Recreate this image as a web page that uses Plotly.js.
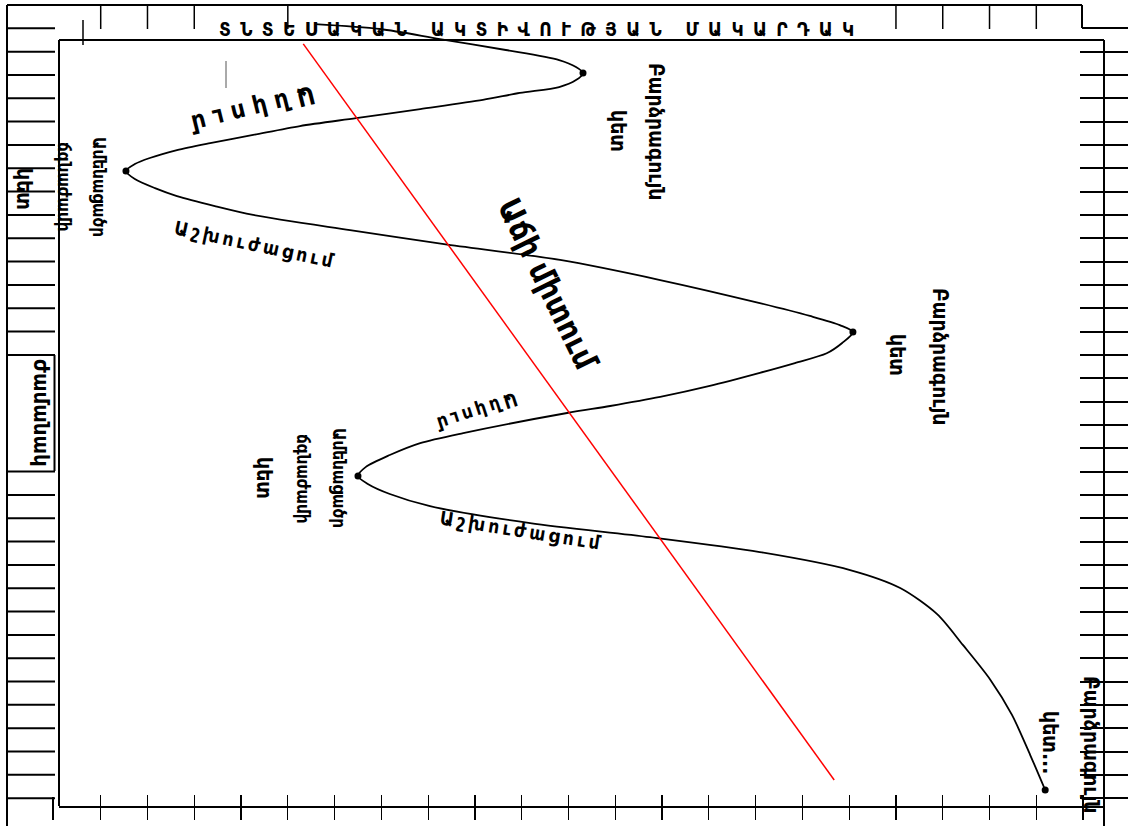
<!DOCTYPE html>
<html><head><meta charset="utf-8">
<script src="https://cdn.plot.ly/plotly-3.0.1.min.js"></script>
<style>html,body{margin:0;padding:0;background:#fff}#chart{width:1128px;height:826px}</style>
</head><body><div id="chart"></div>
<script>
// Business-cycle diagram, drawn turned a quarter turn: time runs downward
// (one unit = one tick of the side scales), economic activity runs to the right
// (one unit = one tick of the bottom scale).
const cycleTime = [-0.18, 0.03, 0.46, 0.93, 1.36, 1.66, 1.92, 2.22, 2.52, 2.77, 3.07, 3.46, 3.85, 4.19,
  4.57, 4.92, 5.22, 5.56, 5.82, 6.12, 6.46, 6.85, 7.19, 7.62, 8.00, 8.65, 9.25, 9.93, 10.79, 11.78,
  12.33, 12.72, 13.02, 13.49, 13.93, 14.35, 14.77, 15.33, 15.80, 16.19, 16.49, 17.35, 17.78, 18.29, 18.80, 19.19, 19.53,
  19.96, 20.48, 21.21, 21.81, 22.45, 23.22, 23.99, 25.11, 26.43, 27.93, 29.43, 31.15, 32.65];
const cycleActivity = [4.58, 5.97, 7.25, 8.66, 9.80, 10.16, 10.31, 10.16, 9.80, 8.96, 8.17, 6.83, 5.46, 4.26,
  3.26, 2.34, 1.63, 1.05, 0.73, 0.54, 0.73, 1.16, 1.63, 2.44, 3.26, 5.33, 7.34, 9.82, 11.96, 14.09,
  15.16, 15.80, 16.08, 15.85, 15.52, 14.84, 14.09, 13.02, 11.96, 10.89, 9.97, 7.75, 6.83, 6.18, 5.67, 5.50, 5.71,
  6.18, 7.04, 9.18, 11.74, 14.09, 16.02, 17.09, 17.88, 18.43, 19.02, 19.48, 19.87, 20.19];
const turningTime = [1.92, 6.12, 13.02, 19.19, 32.65];
const turningActivity = [10.31, 0.54, 16.08, 5.50, 20.19];
const trendTime = [0.67, 32.22];
const trendActivity = [4.33, 15.68];

const titleWords = ['ՏՆՏԵՍԱԿԱՆ', 'ԱԿՏԻՎՈՒԹՅԱՆ', 'ՄԱԿԱՐԴԱԿ'];
const timeLabel = 'ժամանակ';
const peakWords = ['Բարձրագույն', 'կետ'];
const lastPeakWords = ['Բարձրագույն', 'կետ...'];
const troughWords = ['Ամենացածր', 'ճգնաժամի', 'կետ'];
const declineLabel = 'Անկում';
const recoveryLabel = 'Աշխուժացում';
const trendLabel = 'Աճի միտում';

// ---- page geometry (pixels) ----
const W = 1128, H = 826;
const PX = v => v / W, PY = v => 1 - v / H;
const L = 59, R = 1104, T = 40, B = 806, TOPEDGE = 5;
const tx0 = 100.7, tdx = 46.78;   // bottom scale: first tick and spacing
const ty0 = 28.3, tdy = 23.33;    // side scales: first tick and spacing
const xRange = [(L - tx0) / tdx, (R - tx0) / tdx];
const yRange = [(B - ty0) / tdy, (TOPEDGE - ty0) / tdy];
const sideTicks = []; for (let k = 1; k <= 33; k++) sideTicks.push(k);

const FONT = 'DejaVu Sans Condensed, DejaVu Sans, sans-serif';
const spaced = (s, sep) => Array.from(s).join(sep);
const NB = '\u00A0', THIN = '\u2009';

function seg(x0, y0, x1, y1, w, c) {
  return {type: 'line', xref: 'paper', yref: 'paper', x0: PX(x0), y0: PY(y0), x1: PX(x1), y1: PY(y1),
          line: {color: c || '#000', width: w || 2}, layer: 'above'};
}
const shapes = [
  seg(7, TOPEDGE, 7, H), seg(7, TOPEDGE, 1082, TOPEDGE), seg(1082, TOPEDGE, 1082, 28), seg(1082, 28, W, 28),
  seg(L, T, L, B), seg(L, T, R, T), seg(R, T, R, H),
  seg(54.5, 355, 54.5, 471), seg(53, 797, 53, 820),
  seg(83, 20, 83, 45, 1.5), seg(226, 61, 226, 88, 1, '#555')
];
for (let k = 0; k <= 33; k++) {
  if (k >= 15 && k <= 18) continue;
  const y = ty0 + tdy * k;
  shapes.push(seg(7, y, 55, y, 2));
}
[0, 1, 2, 4, 17, 18, 19, 20].forEach(k => {
  shapes.push({type: 'line', xref: 'x', yref: 'paper', x0: k, x1: k, y0: PY(TOPEDGE), y1: PY(29),
               line: {color: '#000', width: 1.5}, layer: 'above'});
});

function ann(text, x, y, size, angle) {
  return {xref: 'paper', yref: 'paper', x: PX(x), y: PY(y), xanchor: 'center', yanchor: 'middle',
    text: text, showarrow: false, textangle: angle || 0,
    font: {family: FONT, size: size, color: '#000', weight: 'bold'}};
}
const titleText = titleWords.map(w => spaced(w, NB + THIN)).join(NB + NB + NB + NB);
const annotations = [
  ann(titleText, 536, 29, 19, 0),
  ann(timeLabel, 42, 413, 22, 90),
  ann(peakWords[0], 656, 131, 21, 90), ann(peakWords[1], 618, 131, 21, 90),
  ann(peakWords[0], 940, 356, 21, 90), ann(peakWords[1], 897, 355, 21, 90),
  ann(lastPeakWords[0], 1091, 744, 21, 90), ann(lastPeakWords[1], 1050, 742, 21, 90),
  ann(troughWords[0], 99, 187, 17, 90), ann(troughWords[1], 64, 187, 17, 90), ann(troughWords[2], 24, 189, 21, 90),
  ann(troughWords[0], 339, 478, 17, 90), ann(troughWords[1], 303, 479, 17, 90), ann(troughWords[2], 264, 478, 21, 90),
  ann(spaced(declineLabel, NB), 252, 109, 25, 166),
  ann(spaced(declineLabel, THIN), 477, 412, 19, 162),
  ann(spaced(recoveryLabel, THIN), 254, 244, 19, 12),
  ann(spaced(recoveryLabel, THIN), 520, 530, 19, 9),
  ann(trendLabel, 548, 285, 32, 64)
];

const traces = [
  {type: 'scatter', mode: 'lines', x: cycleActivity, y: cycleTime,
   line: {color: '#000', width: 1.8, shape: 'spline', smoothing: 0.8}, hoverinfo: 'skip'},
  {type: 'scatter', mode: 'lines', x: trendActivity, y: trendTime,
   line: {color: '#ff0000', width: 1.5}, hoverinfo: 'skip'},
  {type: 'scatter', mode: 'markers', x: turningActivity, y: turningTime,
   marker: {color: '#000', size: 7}, hoverinfo: 'skip'},
  {type: 'scatter', mode: 'lines', x: [], y: [], xaxis: 'x2', yaxis: 'y', hoverinfo: 'skip'},
  {type: 'scatter', mode: 'lines', x: [], y: [], xaxis: 'x', yaxis: 'y2', hoverinfo: 'skip'},
  {type: 'scatter', mode: 'lines', x: [], y: [], xaxis: 'x', yaxis: 'y3', hoverinfo: 'skip'}
];

const xDom = [PX(L), PX(R)], yDom = [PY(B), PY(TOPEDGE)];
const baseAx = {showgrid: false, zeroline: false, showticklabels: false, fixedrange: true};
const layout = {
  width: W, height: H, margin: {l: 0, r: 0, t: 0, b: 0},
  paper_bgcolor: '#fff', plot_bgcolor: 'rgba(0,0,0,0)', showlegend: false, hovermode: false,
  xaxis: Object.assign({}, baseAx, {domain: xDom, range: xRange, anchor: 'y', showline: true, linecolor: '#000',
    linewidth: 2, ticks: 'outside', ticklen: 12, tickwidth: 1.2, tickcolor: '#000', tickmode: 'linear', tick0: 0, dtick: 1}),
  xaxis2: Object.assign({}, baseAx, {domain: xDom, range: xRange, anchor: 'y', overlaying: 'x', side: 'bottom',
    showline: false, ticks: 'inside', ticklen: 11, tickwidth: 1.2, tickcolor: '#000', tickmode: 'linear', tick0: 0, dtick: 1}),
  yaxis: Object.assign({}, baseAx, {domain: yDom, range: yRange, anchor: 'x', showline: false, ticks: ''}),
  yaxis2: Object.assign({}, baseAx, {domain: yDom, range: yRange, anchor: 'x', overlaying: 'y', side: 'right',
    showline: false, ticks: 'outside', ticklen: 24, tickwidth: 2, tickcolor: '#000', tickmode: 'array', tickvals: sideTicks}),
  yaxis3: Object.assign({}, baseAx, {domain: yDom, range: yRange, anchor: 'x', overlaying: 'y', side: 'right',
    showline: false, ticks: 'inside', ticklen: 24, tickwidth: 2, tickcolor: '#000', tickmode: 'array', tickvals: sideTicks}),
  shapes: shapes,
  annotations: annotations
};
Plotly.newPlot('chart', traces, layout, {staticPlot: true, displayModeBar: false});
</script></body></html>
